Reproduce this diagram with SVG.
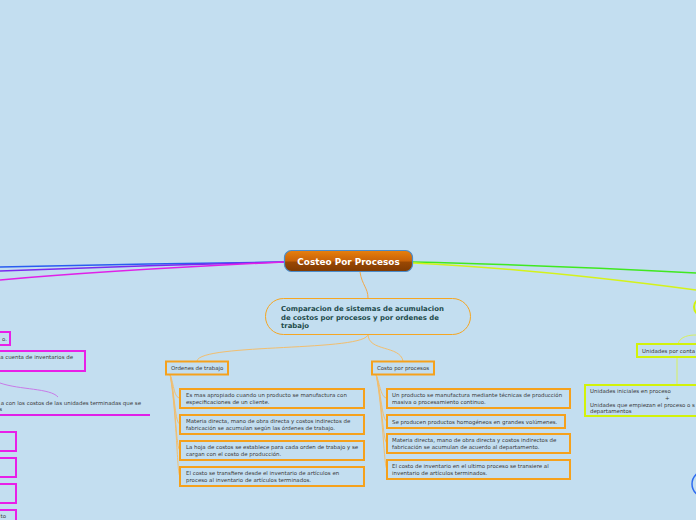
<svg xmlns="http://www.w3.org/2000/svg" width="696" height="520" viewBox="0 0 696 520">
<defs>
<linearGradient id="cg" x1="0" y1="0" x2="0" y2="1">
<stop offset="0" stop-color="#E8800E"/>
<stop offset="0.5" stop-color="#C86208"/>
<stop offset="0.55" stop-color="#9A4804"/>
<stop offset="1" stop-color="#7E3A02"/>
</linearGradient>
<style>
.t{font-family:"DejaVu Sans",Verdana,sans-serif;font-size:5.45px;fill:#3a3a3a}
.ob{fill:none;stroke:#F5A11C;stroke-width:2}
.mg{fill:none;stroke:#E81FE8;stroke-width:2}
.yg{fill:none;stroke:#D2F20A;stroke-width:2}
.oc{fill:none;stroke:#F2BE6E;stroke-width:1}
</style>
</defs>
<rect width="696" height="520" fill="#C3DEF0"/>
<g id="connectors">
<path d="M284,262 C200,263 80,265 0,267" fill="none" stroke="#2A5CF0" stroke-width="1.5"/>
<path d="M284,262 C200,264 80,268 0,271" fill="none" stroke="#7A2AF0" stroke-width="1.5"/>
<path d="M284,262 C200,266 80,273 0,280" fill="none" stroke="#E020E8" stroke-width="1.5"/>
<path d="M413,262 C500,264 600,268 696,273" fill="none" stroke="#40E820" stroke-width="1.5"/>
<path d="M413,263 C520,268 620,280 696,290" fill="none" stroke="#D4F21A" stroke-width="1.5"/>
<path d="M678,344 C680,336 690,335 696,335" fill="none" stroke="#D8F060" stroke-width="1"/>
<path d="M677,357 L677,385" fill="none" stroke="#D8F060" stroke-width="1"/>
<path d="M360,272 C362,285 368,288 368,298" fill="none" stroke="#F2A84A" stroke-width="1"/>
<path d="M368,334 C368,352 200,343 197,361" class="oc"/>
<path d="M368,334 C368,352 400,345 403,361" class="oc"/>
<path d="M170,374 C174,385 174,398 180,398" class="oc"/>
<path d="M170,374 C175,395 175,424 180,424" class="oc"/>
<path d="M170,374 C176,405 176,450 180,450" class="oc"/>
<path d="M170,374 C177,415 177,476 180,476" class="oc"/>
<path d="M376,374 C380,385 381,398 387,398" class="oc"/>
<path d="M376,374 C381,392 382,421 387,421" class="oc"/>
<path d="M376,374 C382,400 383,443 387,443" class="oc"/>
<path d="M376,374 C383,410 384,469 387,469" class="oc"/>
<path d="M0,383 C20,390 50,388 58,397" fill="none" stroke="#C87AE8" stroke-width="1"/>
</g>
<g id="central">
<rect x="284.5" y="250.5" width="128" height="21" rx="7" fill="url(#cg)" stroke="#4A8CCB" stroke-width="1.2"/>
<text x="348.5" y="264.7" text-anchor="middle" font-family="DejaVu Sans,Verdana,sans-serif" font-size="8.9" font-weight="bold" fill="#fff">Costeo Por Procesos</text>
</g>
<g id="comparacion">
<rect x="265.5" y="298.5" width="205" height="36" rx="18" fill="none" stroke="#F5A623" stroke-width="1"/>
<text font-family="DejaVu Sans,Verdana,sans-serif" font-size="6.9" font-weight="bold" fill="#1C4A4A">
<tspan x="281" y="311">Comparacion de sistemas de acumulacion</tspan>
<tspan x="281" y="319.5">de costos por procesos y por ordenes de</tspan>
<tspan x="281" y="328">trabajo</tspan>
</text>
</g>
<g id="ordenes">
<rect x="166" y="361.5" width="62" height="13" class="ob"/>
<text class="t" x="171" y="370">Ordenes de trabajo</text>
</g>
<g id="ord1"><rect x="180" y="389" width="184" height="19" class="ob"/>
<text class="t"><tspan x="186" y="397">Es mas apropiado cuando un producto se manufactura con</tspan><tspan x="186" y="403.5">especificaciones de un cliente.</tspan></text></g>
<g id="ord2"><rect x="180" y="415" width="184" height="19" class="ob"/>
<text class="t"><tspan x="186" y="423">Materia directa, mano de obra directa y costos indirectos de</tspan><tspan x="186" y="429.5">fabricación se acumulan según las órdenes de trabajo.</tspan></text></g>
<g id="ord3"><rect x="180" y="441" width="184" height="19" class="ob"/>
<text class="t"><tspan x="186" y="449">La hoja de costos se establece para cada orden de trabajo y se</tspan><tspan x="186" y="455.5">cargan con el costo de producción.</tspan></text></g>
<g id="ord4"><rect x="180" y="467" width="184" height="19" class="ob"/>
<text class="t"><tspan x="186" y="475">El costo se transfiere desde el inventario de artículos en</tspan><tspan x="186" y="481.5">proceso al inventario de artículos terminados.</tspan></text></g>
<g id="procesos">
<rect x="372" y="361.5" width="62" height="13" class="ob"/>
<text class="t" x="377" y="370">Costo por procesos</text>
</g>
<g id="pro1"><rect x="387" y="389" width="183" height="19" class="ob"/>
<text class="t"><tspan x="392" y="397">Un producto se manufactura mediante técnicas de producción</tspan><tspan x="392" y="403.5">masiva o procesamiento continuo.</tspan></text></g>
<g id="pro2"><rect x="387" y="415" width="178" height="13" class="ob"/>
<text class="t" x="392" y="423.5">Se producen productos homogéneos  en grandes volúmenes.</text></g>
<g id="pro3"><rect x="387" y="434" width="183" height="19" class="ob"/>
<text class="t"><tspan x="392" y="442">Materia directa, mano de obra directa y costos indirectos de</tspan><tspan x="392" y="448.5">fabricación se acumulan de acuerdo al departamento.</tspan></text></g>
<g id="pro4"><rect x="387" y="460" width="183" height="19" class="ob"/>
<text class="t"><tspan x="392" y="468">El costo de inventario en el ultimo proceso se transiere al</tspan><tspan x="392" y="474.5">inventario de artículos terminados.</tspan></text></g>
<g id="left1"><rect x="-20" y="332" width="30" height="13" class="mg"/>
<text class="t" x="7" y="340.5" text-anchor="end">o.</text></g>
<g id="left2"><rect x="-20" y="351" width="105" height="20" class="mg"/>
<text class="t" x="73" y="359" text-anchor="end">a cuenta de inventarios de</text></g>
<g id="left3"><path d="M0,415 H150" fill="none" stroke="#E020E8" stroke-width="2"/>
<text class="t"><tspan x="141" y="405" text-anchor="end">a con los costos de las unidades terminadas que se</tspan><tspan x="2" y="411" text-anchor="end">s</tspan></text></g>
<g id="left4"><rect x="-20" y="432" width="36" height="19" class="mg"/></g>
<g id="left5"><rect x="-20" y="458" width="36" height="19" class="mg"/></g>
<g id="left6"><rect x="-20" y="484" width="36" height="19" class="mg"/></g>
<g id="left7"><rect x="-20" y="510" width="36" height="19" class="mg"/>
<text class="t" x="6" y="518" text-anchor="end">to</text></g>
<g id="right-oval"><rect x="694" y="298" width="40" height="18" rx="9" class="yg"/></g>
<g id="unidades"><rect x="637" y="344" width="80" height="13" class="yg"/>
<text class="t" x="642" y="353">Unidades por conta</text></g>
<g id="unidades2"><rect x="585" y="385" width="140" height="31" class="yg"/>
<text class="t"><tspan x="590" y="393">Unidades iniciales en proceso</tspan><tspan x="665" y="400">+</tspan><tspan x="590" y="406.5">Unidades que empiezan el proceso o s</tspan><tspan x="590" y="413">departamentos</tspan></text></g>
<g id="blue-node"><circle cx="705" cy="484" r="13" fill="none" stroke="#2F6CF0" stroke-width="1.5"/></g>
</svg>
